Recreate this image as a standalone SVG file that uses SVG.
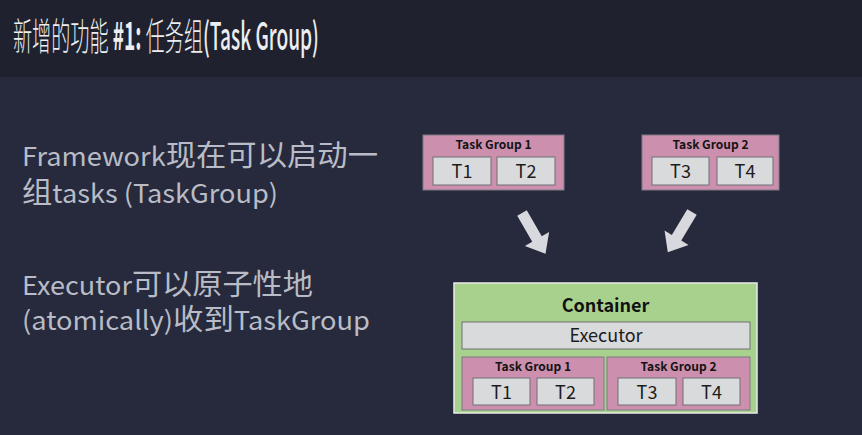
<svg xmlns="http://www.w3.org/2000/svg" width="862" height="435" viewBox="0 0 862 435">
<style>
.bg{fill:#262a3c}
.hdr{fill:#1f222e}
.title{font-family:"Noto Sans CJK SC","Liberation Sans",sans-serif;font-size:38px;fill:#eceef2}
.body{font-family:"Noto Sans CJK SC","Liberation Sans",sans-serif;font-size:26px;fill:#b9bcc6}
.cjk{font-size:29px}
.tg{fill:#cc8fae;stroke:#7e7a84;stroke-width:1}
.task{fill:#d9dadc;stroke:#6f7074;stroke-width:1}
.tgl{font-family:"Noto Sans CJK SC","Liberation Sans",sans-serif;font-size:12px;font-weight:bold;fill:#141414;text-anchor:middle}
.tl{font-family:"Noto Sans CJK SC","Liberation Sans",sans-serif;font-size:18px;fill:#1c1c1c;text-anchor:middle}
.arrow{fill:#d8d9de}
</style>
<rect class="bg" x="0" y="0" width="862" height="435"/>
<rect class="hdr" x="0" y="0" width="862" height="77"/>
<text class="title" transform="translate(13,50) scale(0.503,1)"><tspan font-weight="300">新增的功能 </tspan><tspan font-weight="bold">#1:</tspan><tspan font-weight="300"> 任务组</tspan><tspan font-weight="500">(Task Group)</tspan></text>

<g id="desc">
<text class="body" x="22" y="166" textLength="356" lengthAdjust="spacingAndGlyphs">Framework<tspan class="cjk">现在可以启动一</tspan></text>
<text class="body" x="22" y="203" textLength="256" lengthAdjust="spacingAndGlyphs"><tspan class="cjk">组</tspan>tasks (TaskGroup)</text>
<text class="body" x="22" y="295" textLength="291" lengthAdjust="spacingAndGlyphs">Executor<tspan class="cjk">可以原子性地</tspan></text>
<text class="body" x="22" y="330" textLength="348" lengthAdjust="spacingAndGlyphs">(atomically)<tspan class="cjk">收到</tspan>TaskGroup</text>
</g>

<g id="taskgroup1">
<rect class="tg" x="423" y="135" width="141" height="55"/>
<text class="tgl" x="493.5" y="149">Task Group 1</text>
<rect class="task" x="433" y="157" width="58" height="28"/>
<text class="tl" x="462" y="178">T1</text>
<rect class="task" x="497" y="157" width="58" height="28"/>
<text class="tl" x="526" y="178">T2</text>
</g>

<g id="taskgroup2">
<rect class="tg" x="642" y="135" width="137" height="55"/>
<text class="tgl" x="710.5" y="149">Task Group 2</text>
<rect class="task" x="652" y="157" width="57" height="28"/>
<text class="tl" x="680.5" y="178">T3</text>
<rect class="task" x="717" y="157" width="56" height="28"/>
<text class="tl" x="745" y="178">T4</text>
</g>

<g id="connectors">
<polygon class="arrow" transform="translate(522,213) rotate(60)" points="0,-5.5 30,-5.5 30,-14 47,0 30,14 30,5.5 0,5.5"/>
<polygon class="arrow" transform="translate(692,212) rotate(121)" points="0,-5.5 30,-5.5 30,-14 47,0 30,14 30,5.5 0,5.5"/>
</g>

<g id="container">
<rect x="454" y="283" width="303" height="130" fill="#a9d18e" stroke="#e8ece6" stroke-width="1.5"/>
<text x="605.5" y="312" font-family="Noto Sans CJK SC, Liberation Sans, sans-serif" font-size="18" font-weight="bold" fill="#111" text-anchor="middle">Container</text>
</g>

<g id="executor">
<rect class="task" x="462" y="322" width="288" height="27"/>
<text class="tl" x="606" y="342">Executor</text>
</g>

<g id="inner-taskgroup1">
<rect class="tg" x="462" y="357" width="142" height="53"/>
<text class="tgl" x="533" y="371">Task Group 1</text>
<rect class="task" x="473" y="378" width="57" height="27"/>
<text class="tl" x="501.5" y="399">T1</text>
<rect class="task" x="537" y="378" width="57" height="27"/>
<text class="tl" x="565.5" y="399">T2</text>
</g>

<g id="inner-taskgroup2">
<rect class="tg" x="607" y="357" width="143" height="53"/>
<text class="tgl" x="678.5" y="371">Task Group 2</text>
<rect class="task" x="618" y="378" width="58" height="27"/>
<text class="tl" x="647" y="399">T3</text>
<rect class="task" x="683" y="378" width="57" height="27"/>
<text class="tl" x="711.5" y="399">T4</text>
</g>
</svg>
